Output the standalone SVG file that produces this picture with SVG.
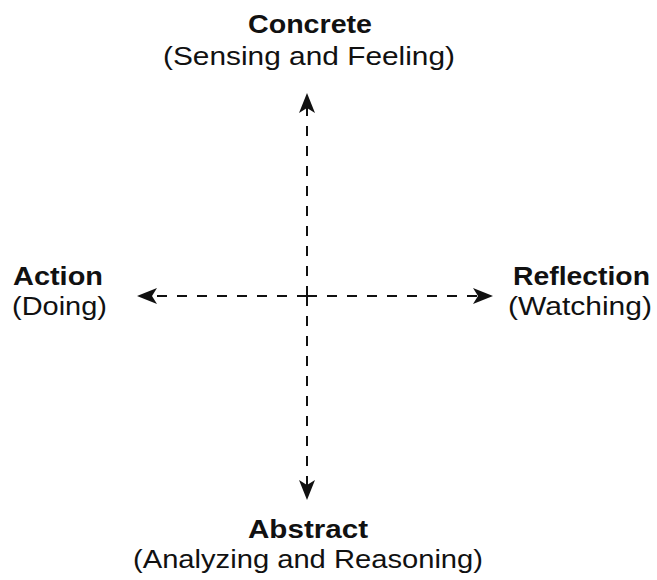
<svg xmlns="http://www.w3.org/2000/svg" width="657" height="580" viewBox="0 0 657 580">
  <style>
    text { font-family: "Liberation Sans", Arial, Helvetica, sans-serif; font-size: 26px; fill: #111; }
    .title { font-weight: bold; }
    .axis { stroke: #111; stroke-width: 2; stroke-dasharray: 10 10; fill: none; }
  </style>
  <defs>
    <marker id="head" markerUnits="userSpaceOnUse" viewBox="-6 -9 22 18" refX="0" refY="0" markerWidth="22" markerHeight="18" orient="auto">
      <path d="M15,0 L-5,-8 L0,0 L-5,8 Z" fill="#111"/>
    </marker>
  </defs>
  <rect width="657" height="580" fill="#fff"/>

  <!-- axes radiating from the centre -->
  <g id="connectors">
    <line class="axis" x1="307" y1="296" x2="307" y2="108" marker-end="url(#head)"/>
    <line class="axis" x1="307" y1="296" x2="307" y2="485" marker-end="url(#head)"/>
    <line class="axis" x1="307" y1="296" x2="152" y2="296" marker-end="url(#head)"/>
    <line class="axis" x1="307" y1="296" x2="478" y2="296" marker-end="url(#head)"/>
  </g>

  <g id="concrete">
    <text class="title" x="310" y="33" text-anchor="middle" textLength="124" lengthAdjust="spacingAndGlyphs">Concrete</text>
    <text x="309" y="65" text-anchor="middle" textLength="292" lengthAdjust="spacingAndGlyphs">(Sensing and Feeling)</text>
  </g>

  <g id="action">
    <text class="title" x="13" y="285" textLength="90" lengthAdjust="spacingAndGlyphs">Action</text>
    <text x="12" y="315" textLength="95" lengthAdjust="spacingAndGlyphs">(Doing)</text>
  </g>

  <g id="reflection">
    <text class="title" x="513" y="285" textLength="137" lengthAdjust="spacingAndGlyphs">Reflection</text>
    <text x="508" y="315" textLength="144" lengthAdjust="spacingAndGlyphs">(Watching)</text>
  </g>

  <g id="abstract">
    <text class="title" x="308" y="538" text-anchor="middle" textLength="120" lengthAdjust="spacingAndGlyphs">Abstract</text>
    <text x="308" y="568" text-anchor="middle" textLength="350" lengthAdjust="spacingAndGlyphs">(Analyzing and Reasoning)</text>
  </g>
</svg>
